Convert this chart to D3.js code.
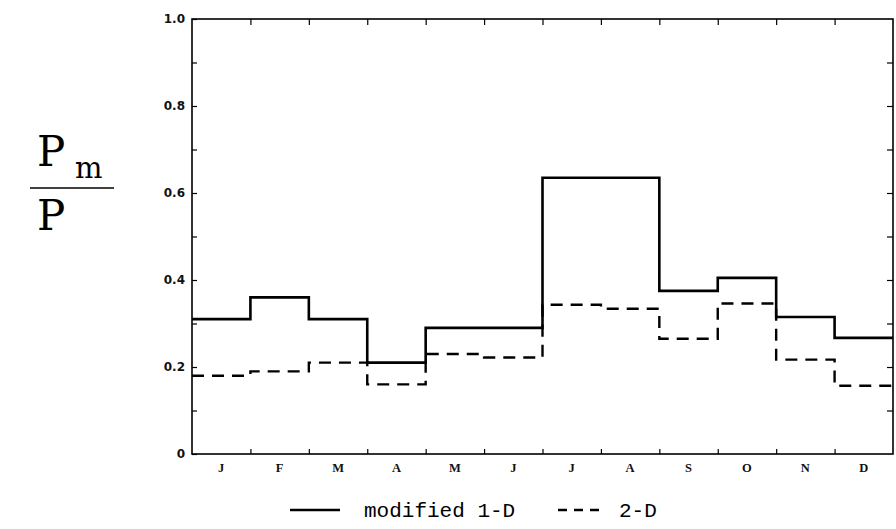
<!DOCTYPE html>
<html>
<head>
<meta charset="utf-8">
<script src="https://cdn.jsdelivr.net/npm/d3@7"></script>
<style>
  body { margin: 0; background: #fff; }
  svg { display: block; }
</style>
</head>
<body>
<div id="chart"></div>
<script>
// chart size
const width = 896;
const height = 529;
const margin = {left: 192, right: 3, top: 19, bottom: 75};

// data
const months = ["J", "F", "M", "A", "M", "J", "J", "A", "S", "O", "N", "D"];
const modified1D = [0.31, 0.36, 0.31, 0.21, 0.29, 0.29, 0.635, 0.635, 0.375, 0.405, 0.315, 0.267];
const twoD = [0.18, 0.19, 0.21, 0.16, 0.23, 0.222, 0.343, 0.334, 0.265, 0.346, 0.217, 0.157];
const yTickLabels = [0, 0.2, 0.4, 0.6, 0.8, 1.0];

const svg = d3.select("#chart")
  .append("svg")
  .attr("width", width)
  .attr("height", height);

// scales
const x = d3.scaleLinear()
  .domain([0, months.length])
  .range([margin.left, width - margin.right]);

const xBand = d3.scaleBand()
  .domain(d3.range(months.length))
  .range([margin.left, width - margin.right]);

const y = d3.scaleLinear()
  .domain([0, 1])
  .range([height - margin.bottom, margin.top]);

// frame
svg.append("rect")
  .attr("x", x(0))
  .attr("y", y(1))
  .attr("width", x(12) - x(0))
  .attr("height", y(0) - y(1))
  .attr("fill", "none")
  .attr("stroke", "#000")
  .attr("stroke-width", 1.6);

// left axis: labelled ticks every 0.2, minor every 0.1
svg.append("g")
  .attr("transform", `translate(${x(0)},0)`)
  .call(d3.axisLeft(y).tickValues(d3.range(0, 1.01, 0.1)).tickSize(-5).tickPadding(7)
    .tickFormat(d => {
      const m = yTickLabels.find(v => Math.abs(v - d) < 1e-6);
      return m === undefined ? "" : (m === 0 ? "0" : d3.format(".1f")(m));
    }))
  .call(g => g.select(".domain").remove())
  .call(g => g.selectAll(".tick line").attr("stroke-width", 1.2))
  .call(g => g.selectAll(".tick text")
    .attr("font-family", "'DejaVu Sans', sans-serif")
    .attr("font-size", "12px")
    .attr("font-weight", "bold")
    .attr("fill", "#111"));

// right axis ticks pointing inward
svg.append("g")
  .attr("transform", `translate(${x(12)},0)`)
  .call(d3.axisRight(y).tickValues(d3.range(0.1, 1.0, 0.1)).tickSize(-6).tickFormat(""))
  .call(g => g.select(".domain").remove())
  .call(g => g.selectAll(".tick line").attr("stroke-width", 1.2));

// top ticks at month boundaries
svg.append("g")
  .attr("transform", `translate(0,${y(1)})`)
  .call(d3.axisTop(x).tickValues(d3.range(1, 12)).tickSize(-6).tickFormat(""))
  .call(g => g.select(".domain").remove())
  .call(g => g.selectAll(".tick line").attr("stroke-width", 1.2));

// bottom ticks at month boundaries
svg.append("g")
  .attr("transform", `translate(0,${y(0)})`)
  .call(d3.axisBottom(x).tickValues(d3.range(1, 12)).tickSize(-5).tickFormat(""))
  .call(g => g.select(".domain").remove())
  .call(g => g.selectAll(".tick line").attr("stroke-width", 1.2));

// month labels centred in each band
svg.append("g")
  .attr("transform", `translate(0,${y(0)})`)
  .call(d3.axisBottom(xBand).tickSize(0).tickPadding(9).tickFormat(i => months[i]))
  .call(g => g.select(".domain").remove())
  .call(g => g.selectAll(".tick text")
    .attr("font-family", "'Liberation Serif', serif")
    .attr("font-size", "12.5px")
    .attr("font-weight", "bold")
    .attr("fill", "#111"));

// step lines (repeat last value to close December)
const stepLine = d3.line()
  .x((d, i) => x(i))
  .y(d => y(d))
  .curve(d3.curveStepAfter);

const extend = arr => arr.concat([arr[arr.length - 1]]);

svg.append("path")
  .datum(extend(twoD))
  .attr("d", stepLine)
  .attr("fill", "none")
  .attr("stroke", "#000")
  .attr("stroke-width", 2.4)
  .attr("stroke-dasharray", "12,8");

svg.append("path")
  .datum(extend(modified1D))
  .attr("d", stepLine)
  .attr("fill", "none")
  .attr("stroke", "#000")
  .attr("stroke-width", 2.6);

// y label Pm / P
const ylab = svg.append("g").attr("font-family", "'DejaVu Serif', serif").attr("fill", "#000");
ylab.append("text").attr("x", 37).attr("y", 166).attr("font-size", "42px").text("P");
ylab.append("text").attr("x", 75).attr("y", 178).attr("font-size", "29px").text("m");
ylab.append("line").attr("x1", 30).attr("x2", 114).attr("y1", 188).attr("y2", 188)
  .attr("stroke", "#000").attr("stroke-width", 1.6);
ylab.append("text").attr("x", 37).attr("y", 230).attr("font-size", "42px").text("P");

// legend
const legY = 510;
svg.append("line").attr("x1", 290).attr("x2", 340).attr("y1", legY).attr("y2", legY)
  .attr("stroke", "#000").attr("stroke-width", 2.4);
svg.append("line").attr("x1", 558).attr("x2", 602).attr("y1", legY).attr("y2", legY)
  .attr("stroke", "#000").attr("stroke-width", 2.4).attr("stroke-dasharray", "9,7");
svg.append("text").attr("x", 364).attr("y", legY + 7)
  .attr("font-family", "'Liberation Mono', monospace").attr("font-size", "21px")
  .text("modified 1-D");
svg.append("text").attr("x", 619).attr("y", legY + 7)
  .attr("font-family", "'Liberation Mono', monospace").attr("font-size", "21px")
  .text("2-D");
</script>
</body>
</html>
